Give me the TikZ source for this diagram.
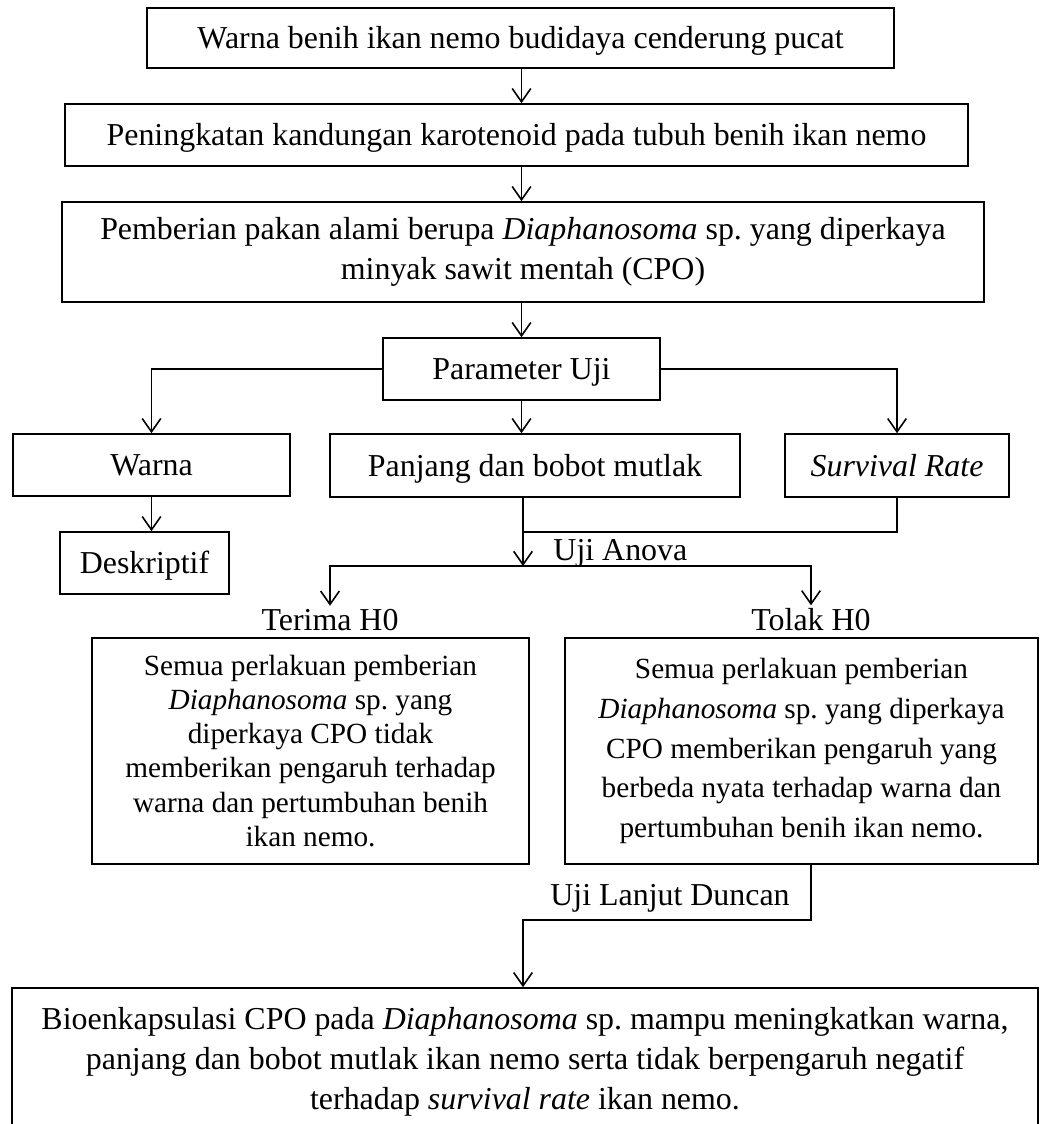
\documentclass[tikz,border=0pt]{standalone}
\usepackage{fontspec}
\setmainfont{Liberation Serif}
\usepackage{tikz}
\usetikzlibrary{arrows.meta}
\tikzset{>={Straight Barb[length=5pt,width=7pt]}}
\tikzset{kotak/.style 2 args={draw,align=center,inner sep=0pt,
    minimum width=#1*0.376pt,minimum height=#2*0.376pt}}
\tikzset{satu/.style={text height=8pt,text depth=0pt}}
\tikzset{label uji/.style={inner sep=1pt}}

\begin{document}
\frenchspacing
\begin{tikzpicture}[x=0.376pt,y=-0.376pt,line width=0.6pt,font=\fontsize{12}{15}\selectfont]
    \useasboundingbox (0,0) rectangle (1049,1124);
    \node[kotak={747}{60},satu] at (520.5,38) (atas) {Warna benih ikan nemo budidaya cenderung pucat};
    \node[kotak={903}{62},satu] at (516.5,135) (karot) {Peningkatan kandungan karotenoid pada tubuh benih ikan nemo};
    \node[kotak={922}{100}] at (523,252) (pakan) {Pemberian pakan alami berupa \textit{Diaphanosoma} sp. yang diperkaya\\ minyak sawit mentah (CPO)};
    \node[kotak={277}{62},satu] at (521.5,369) (param) {Parameter Uji};
    \node[kotak={277}{62},satu] at (151.5,465) (warna) {Warna};
    \node[kotak={410}{63},satu] at (535,465.5) (panjang) {Panjang dan bobot mutlak};
    \node[kotak={224}{63},satu] at (897,465.5) (sr) {\textit{Survival Rate}};
    \node[kotak={169}{62},satu] at (144.5,563) (desk) {Deskriptif};
    \node[label uji,anchor=west] at (550,553) (anova) {Uji Anova};
    \node[label uji] at (330,620) (ht) {Terima H0};
    \node[label uji] at (811,620) (hk) {Tolak H0};
    \node[kotak={437}{226},font=\fontsize{11}{12.8}\selectfont] at (310.5,751) (terima) {Semua perlakuan pemberian\\ \textit{Diaphanosoma} sp. yang\\ diperkaya CPO tidak\\ memberikan pengaruh terhadap\\ warna dan pertumbuhan benih\\ ikan nemo.};
    \node[kotak={473}{226},font=\fontsize{11}{15}\selectfont] at (801.5,751) (tolak) {Semua perlakuan pemberian\\ \textit{Diaphanosoma} sp. yang diperkaya\\ CPO memberikan pengaruh yang\\ berbeda nyata terhadap warna dan\\ pertumbuhan benih ikan nemo.};
    \node[label uji] at (670,898) (duncan) {Uji Lanjut Duncan};
    \node[kotak={1026}{148}] at (525,1062) (akhir) {Bioenkapsulasi CPO pada \textit{Diaphanosoma} sp. mampu meningkatkan warna,\\ panjang dan bobot mutlak ikan nemo serta tidak berpengaruh negatif\\ terhadap \textit{survival rate} ikan nemo.};
    \coordinate (temu) at (523,532);
    \coordinate (simpang) at (523,566);
    \coordinate (lanjut) at (523,920);
    % alur utama
    \draw[->] (atas.south -| param) -- (karot.north -| param);
    \draw[->] (karot.south -| param) -- (pakan.north -| param);
    \draw[->] (pakan.south -| param) -- (param.north);
    \draw[->] (param.west) -| (warna.north);
    \draw[->] (param.east) -| (sr.north);
    \draw[->] (param.south) -- (param.south |- panjang.north);
    \draw[->] (warna.south) -- (warna.south |- desk.north);
    \draw[->] (panjang.south -| simpang) -- (simpang);
    \draw (sr.south) |- (temu);
    \draw[->] (simpang) -| (ht.north);
    \draw[->] (simpang) -| (hk.north);
    \draw[->] (tolak.south -| hk) |- (lanjut) -- (akhir.north -| lanjut);
\end{tikzpicture}
\end{document}
